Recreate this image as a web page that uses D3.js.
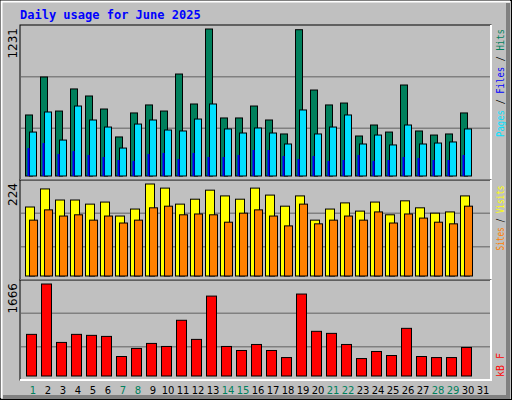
<!DOCTYPE html>
<html><head><meta charset="utf-8">
<script src="https://d3js.org/d3.v7.min.js"></script>
<style>body{margin:0;background:#fff}</style>
</head><body>
<svg id="c" width="512" height="400"></svg>
<script>
var days = d3.range(1, 32);
var weekend = [1, 7, 8, 14, 15, 21, 22, 28, 29];
var hits  = [511,829,544,729,670,561,327,528,595,544,854,603,1231,486,486,586,469,352,1225,720,595,611,335,427,368,762,377,343,352,528,0];
var files = [368,536,301,586,469,410,234,435,469,385,377,477,603,394,360,402,360,268,553,352,410,511,268,343,260,427,268,276,285,394,0];
var pages = [234,276,184,209,176,159,134,126,184,193,142,193,159,159,176,218,218,167,142,167,126,134,176,126,134,159,151,134,134,176,0];
var visits = [168,212,185,185,175,180,146,163,224,214,175,187,209,195,187,214,197,170,195,136,163,178,158,180,149,183,166,153,156,195,0];
var sites  = [136,161,146,149,136,146,129,136,166,170,149,151,149,131,153,161,146,122,175,127,136,146,136,156,129,151,141,131,127,170,0];
var kbytes = [754,1666,608,754,736,717,353,499,590,535,1009,663,1447,535,462,571,462,334,1484,809,772,571,316,444,371,863,353,334,334,517,0];

var svg = d3.select("#c");
var font = "'DejaVu Sans Mono', monospace";

// frame
svg.append("rect").attr("x",0.5).attr("y",0.5).attr("width",511).attr("height",399).attr("fill","#c0c0c0").attr("stroke","#000");
svg.append("path").attr("d","M1.5,398V1.5H510").attr("fill","none").attr("stroke","#fff").attr("stroke-width",2);
svg.append("path").attr("d","M508,3V397H3").attr("fill","none").attr("stroke","#808080").attr("stroke-width",4);

svg.append("text").attr("x",20).attr("y",19).attr("fill","#0000ff")
  .style("font", "bold 12px " + font).text("Daily usage for June 2025");

var x = d3.scaleBand().domain(days).range([20, 485]).paddingInner(0);

function panel(top, bottom, max, label) {
  var g = svg.append("g");
  g.append("rect").attr("x",20).attr("y",top).attr("width",471).attr("height",bottom-top)
    .attr("fill","#c0c0c0").attr("stroke","#000").attr("stroke-width",1);
  g.append("path").attr("d","M20,"+bottom+"H491V"+top).attr("fill","none").attr("stroke","#fff").attr("stroke-width",2);
  var h = bottom - top;
  [1/3, 2/3].forEach(function(f) {
    g.append("line").attr("x1",21).attr("x2",490).attr("y1",top+h*f).attr("y2",top+h*f).attr("stroke","#808080").attr("stroke-width",1.5);
  });
  g.append("text").attr("transform","translate(17,"+(top+3)+") rotate(-90)").attr("text-anchor","end")
    .style("font","12px 'DejaVu Sans'").attr("fill","#000").text(label);
  var y = d3.scaleLinear().domain([0, max]).range([bottom - 4, top + 4]);
  return {g: g, y: y};
}

function bars(p, data, off, w, color, stroke) {
  p.g.selectAll(null).data(data).enter().filter(function(d){return d>0;}).append("rect")
    .attr("x", function(d,i){ return x(days[i]) + off; })
    .attr("y", function(d){ return p.y(d); })
    .attr("width", w)
    .attr("height", function(d){ return p.y(0) - p.y(d); })
    .attr("fill", color).attr("stroke", stroke ? "#000" : "none").attr("stroke-width", 1);
}

var p1 = panel(25, 180, 1231, "1231");
bars(p1, hits, 5.5, 7, "#00805c", true);
bars(p1, files, 9.5, 7, "#00e0ff", true);
bars(p1, pages, 7.5, 2, "#0000ff", false);

var p2 = panel(180, 280, 224, "224");
bars(p2, visits, 5.5, 9, "#ffff00", true);
bars(p2, sites, 9.5, 8, "#ff8000", true);

var p3 = panel(280, 380, 1666, "1666");
bars(p3, kbytes, 6.5, 10, "#ff0000", true);

// right labels
function rlabel(yc, len, parts) {
  var t = svg.append("text").attr("transform","translate(504,"+yc+") rotate(-90)")
    .attr("text-anchor","middle").attr("textLength", len).attr("lengthAdjust","spacingAndGlyphs")
    .style("font","11px " + font);
  parts.forEach(function(p){ t.append("tspan").attr("fill",p[1]).text(p[0]); });
}
rlabel(83, 108, [["Pages","#00e0ff"],[" / ","#000"],["Files","#0000ff"],[" / ","#000"],["Hits","#00805c"]]);
rlabel(218, 65, [["Sites","#ff8000"],[" / ","#000"],["Visits","#ffff00"]]);
rlabel(365, 24, [["kB F","#ff0000"]]);

svg.selectAll(".d").data(days).enter().append("text")
  .attr("x", function(d){ return x(d) + 13; })
  .attr("y", 394).attr("text-anchor","middle")
  .style("font","10px 'DejaVu Sans'")
  .attr("fill", function(d){ return weekend.indexOf(d) >= 0 ? "#00805c" : "#000"; })
  .text(function(d){ return d; });
</script>
</body></html>
